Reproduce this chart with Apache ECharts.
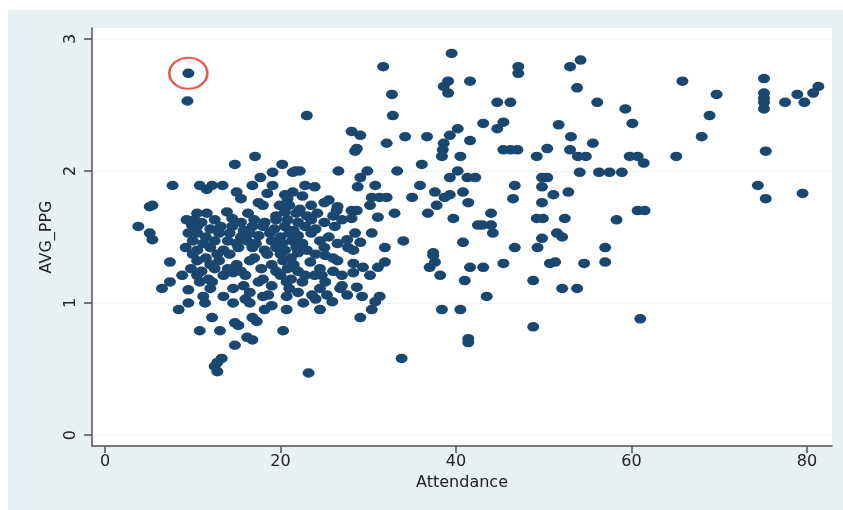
<!DOCTYPE html>
<html>
<head>
<meta charset="utf-8">
<script src="https://cdn.jsdelivr.net/npm/echarts@6/dist/echarts.min.js"></script>
<style>
  html, body { margin: 0; padding: 0; background: #ffffff; }
  #chart { position: absolute; left: 8px; top: 10px; width: 835px; height: 500px; background: #e9f0f3; }
</style>
</head>
<body>
<div id="chart"></div>
<script>
// Club attendance (thousands) against average points per game
const attendance = [
  9.5, 9.4, 31.7, 39.5, 47.1, 47.1, 53.0, 54.2, 53.8, 32.7,
  39.1, 38.6, 39.1, 41.6, 23.0, 32.8, 28.1, 29.1, 34.2, 36.7,
  40.2, 39.3, 41.6, 38.6, 38.5, 38.4, 28.7, 28.5, 32.1, 36.1,
  40.5, 21.7, 22.2, 26.6, 29.9, 33.3, 40.2, 39.3, 41.3, 42.2,
  29.1, 28.8, 30.8, 22.8, 23.9, 21.4, 35.9, 37.6, 40.8, 35.0,
  39.3, 38.7, 37.8, 36.8, 41.4, 30.4, 31.3, 32.1, 30.2, 31.1,
  33.0, 26.4, 28.1, 28.7, 28.1, 39.7, 42.5, 30.4, 28.5, 27.6,
  29.1, 27.7, 28.3, 34.0, 40.8, 31.9, 37.4, 23.4, 25.1, 22.0,
  28.3, 29.4, 30.2, 31.1, 31.9, 27.0, 28.3, 28.7, 27.6, 29.3,
  31.3, 30.8, 30.4, 29.1, 23.9, 24.7, 25.1, 24.5, 25.3, 25.9,
  23.6, 22.6, 24.5, 37.0, 37.4, 37.6, 38.2, 41.6, 41.0, 38.4,
  40.5, 41.4, 41.4, 33.8, 23.2, 44.7, 46.2, 56.1, 59.3, 60.1,
  43.1, 45.4, 44.7, 51.7, 53.1, 55.6, 50.4, 49.2, 53.0, 53.9,
  54.8, 45.4, 46.2, 47.0, 59.8, 60.7, 61.4, 54.1, 56.3, 57.5,
  58.9, 49.8, 50.4, 49.8, 46.7, 51.1, 52.8, 46.5, 49.8, 44.0,
  60.7, 61.5, 58.3, 43.0, 44.0, 44.2, 49.2, 49.9, 52.4, 51.5,
  52.1, 49.8, 49.3, 46.7, 57.0, 57.0, 43.1, 45.4, 50.7, 51.3,
  54.6, 48.8, 52.1, 53.8, 43.5, 61.0, 48.8, 65.8, 69.7, 68.9,
  68.0, 65.1, 75.1, 75.1, 75.1, 75.1, 75.1, 77.5, 78.9, 79.7,
  80.7, 81.3, 75.3, 74.4, 75.3, 79.5, 17.1, 14.8, 20.2, 19.1,
  21.4, 7.7, 10.8, 11.6, 12.2, 13.4, 16.8, 17.7, 19.1, 18.5,
  5.1, 5.4, 11.6, 13.9, 16.3, 18.0, 19.9, 3.8, 5.1, 5.4,
  7.4, 8.8, 7.4, 6.5, 9.5, 10.8, 11.2, 11.4, 9.5, 8.4,
  12.2, 10.8, 13.1, 14.8, 15.2, 16.8, 17.3, 16.2, 16.8, 14.8,
  13.3, 12.8, 12.5, 12.8, 14.6, 14.6, 14.6, 18.0, 18.6, 18.2,
  20.3, 20.7, 20.7, 21.0, 20.7, 9.3, 9.9, 9.5,
  // dense block of smaller clubs
  15.0, 20.5,
  15.5, 17.5, 20.8, 22.5, 25.5,
  21.0, 22.2, 23.5, 25.0, 26.5,
  10.5, 19.5, 20.5, 21.8, 23.0, 24.2, 26.0,
  10.2, 11.0, 12.5, 14.5, 15.5, 17.0, 18.2, 19.5, 20.8, 22.0, 23.5, 25.0, 27.0,
  10.5, 12.0, 13.2, 14.5, 15.8, 16.8, 18.0, 19.3, 20.5, 21.5, 22.8, 24.0, 26.2,
  10.5, 11.5, 13.0, 14.2, 15.5, 16.5, 17.5, 18.8, 20.0, 21.0, 22.0, 23.5, 25.5,
  10.0, 11.2, 12.5, 14.0, 15.0, 16.2, 17.2, 19.0, 20.2, 21.3, 22.5, 24.5, 26.5,
  9.2, 10.5, 12.0, 13.5, 15.2, 16.8, 18.2, 19.5, 20.5, 21.8, 23.0, 25.0,
  10.0, 11.5, 12.8, 14.2, 17.0, 18.5, 20.0, 21.2, 24.0, 26.0,
  10.5, 12.0, 13.0, 15.0, 16.5, 19.0, 20.3, 21.5, 26.5,
  9.8, 11.0, 12.5, 14.0, 15.5, 17.8, 19.5, 20.8, 22.0, 24.5, 26.0,
  10.5, 11.8, 13.5, 16.0, 18.0, 20.0, 21.2, 22.8,
  12.2, 15.8, 17.5, 19.0, 22.5, 27.0,
  12.0, 16.5, 22.0, 26.8,
  13.5, 16.0, 24.0,
  16.5, 19.0
];

const avgPpg = [
  2.74, 2.53, 2.79, 2.89, 2.79, 2.74, 2.79, 2.84, 2.63, 2.58,
  2.68, 2.64, 2.59, 2.68, 2.42, 2.42, 2.30, 2.27, 2.26, 2.26,
  2.32, 2.27, 2.23, 2.21, 2.16, 2.11, 2.17, 2.15, 2.21, 2.05,
  2.11, 2.00, 2.00, 2.00, 2.00, 2.00, 2.00, 1.95, 1.95, 1.95,
  1.95, 1.88, 1.89, 1.89, 1.88, 1.84, 1.89, 1.84, 1.84, 1.80,
  1.82, 1.80, 1.74, 1.68, 1.76, 1.80, 1.80, 1.80, 1.74, 1.65,
  1.68, 1.70, 1.70, 1.70, 1.64, 1.64, 1.59, 1.53, 1.53, 1.48,
  1.46, 1.42, 1.40, 1.47, 1.46, 1.42, 1.38, 1.31, 1.36, 1.38,
  1.30, 1.27, 1.21, 1.27, 1.31, 1.21, 1.23, 1.12, 1.06, 1.05,
  1.05, 1.01, 0.95, 0.89, 1.21, 1.21, 1.16, 1.11, 1.06, 1.01,
  1.06, 1.00, 0.95, 1.27, 1.36, 1.31, 1.21, 1.27, 1.17, 0.95,
  0.95, 0.73, 0.70, 0.58, 0.47, 2.52, 2.52, 2.52, 2.47, 2.36,
  2.36, 2.37, 2.32, 2.35, 2.26, 2.21, 2.17, 2.11, 2.16, 2.11,
  2.11, 2.16, 2.16, 2.16, 2.11, 2.11, 2.06, 1.99, 1.99, 1.99,
  1.99, 1.95, 1.95, 1.88, 1.89, 1.82, 1.84, 1.79, 1.76, 1.68,
  1.70, 1.70, 1.63, 1.59, 1.59, 1.53, 1.64, 1.64, 1.64, 1.53,
  1.50, 1.49, 1.42, 1.42, 1.42, 1.31, 1.27, 1.30, 1.30, 1.31,
  1.30, 1.17, 1.11, 1.11, 1.05, 0.88, 0.82, 2.68, 2.58, 2.42,
  2.26, 2.11, 2.70, 2.59, 2.55, 2.52, 2.47, 2.52, 2.58, 2.52,
  2.59, 2.64, 2.15, 1.89, 1.79, 1.83, 2.11, 2.05, 2.05, 1.99,
  1.99, 1.89, 1.89, 1.86, 1.89, 1.89, 1.89, 1.95, 1.89, 1.83,
  1.73, 1.74, 1.68, 1.69, 1.68, 1.74, 1.74, 1.58, 1.53, 1.48,
  1.31, 1.21, 1.16, 1.11, 1.10, 1.16, 1.05, 1.00, 1.00, 0.95,
  0.89, 0.79, 0.79, 0.85, 0.83, 0.89, 0.86, 0.74, 0.72, 0.68,
  0.58, 0.55, 0.52, 0.48, 1.00, 1.11, 1.23, 1.05, 1.06, 0.95,
  0.79, 0.95, 1.05, 1.11, 1.16, 1.63, 1.59, 1.53,
  // dense block of smaller clubs
  1.84, 1.82,
  1.79, 1.76, 1.79, 1.81, 1.78,
  1.74, 1.71, 1.74, 1.76, 1.73,
  1.68, 1.66, 1.69, 1.68, 1.66, 1.68, 1.66,
  1.63, 1.61, 1.63, 1.64, 1.61, 1.63, 1.61, 1.63, 1.63, 1.61, 1.63, 1.61, 1.63,
  1.58, 1.56, 1.58, 1.58, 1.55, 1.58, 1.58, 1.56, 1.58, 1.55, 1.58, 1.56, 1.58,
  1.53, 1.50, 1.53, 1.53, 1.50, 1.53, 1.51, 1.53, 1.50, 1.53, 1.51, 1.53, 1.50,
  1.47, 1.45, 1.47, 1.47, 1.45, 1.47, 1.45, 1.47, 1.45, 1.47, 1.45, 1.47, 1.45,
  1.42, 1.40, 1.42, 1.40, 1.42, 1.42, 1.40, 1.42, 1.40, 1.42, 1.40, 1.42,
  1.37, 1.34, 1.37, 1.37, 1.34, 1.37, 1.37, 1.34, 1.37, 1.34,
  1.32, 1.29, 1.32, 1.29, 1.32, 1.29, 1.32, 1.29, 1.32,
  1.26, 1.24, 1.26, 1.26, 1.24, 1.26, 1.24, 1.26, 1.24, 1.26, 1.24,
  1.21, 1.18, 1.21, 1.21, 1.18, 1.21, 1.18, 1.21,
  1.16, 1.13, 1.16, 1.13, 1.16, 1.13,
  1.11, 1.08, 1.08, 1.11,
  1.05, 1.03, 1.03,
  1.00, 0.98
];

// The club picked out with a ring
const highlightedClub = [9.5, 2.74];

const xTicks = [0, 20, 40, 60, 80];
const yTicks = [0, 1, 2, 3];

const points = attendance.map((a, i) => [a, avgPpg[i]]);

const axisColor = '#505050';
const textColor = '#222222';
const fontFamily = '"DejaVu Sans", Arial, sans-serif';

const chart = echarts.init(document.getElementById('chart'), null, { renderer: 'canvas' });
chart.setOption({
  animation: false,
  backgroundColor: 'transparent',
  grid: {
    left: 84, right: 11, top: 18, bottom: 64,
    show: true, backgroundColor: '#ffffff', borderWidth: 0
  },
  xAxis: {
    type: 'value',
    min: -1.48, max: 82.85,
    name: 'Attendance',
    nameLocation: 'middle',
    nameGap: 29,
    nameTextStyle: { color: textColor, fontSize: 16, fontFamily },
    axisLine: { show: true, onZero: false, lineStyle: { color: axisColor, width: 1.5 } },
    axisTick: { show: true, length: 7, customValues: xTicks, lineStyle: { color: axisColor, width: 1.5 } },
    axisLabel: { customValues: xTicks, color: textColor, fontSize: 16, fontFamily, margin: 8 },
    splitLine: { show: false }
  },
  yAxis: {
    type: 'value',
    min: -0.083, max: 3.083,
    name: 'AVG_PPG',
    nameLocation: 'middle',
    nameGap: 37,
    nameTextStyle: { color: textColor, fontSize: 16, fontFamily },
    axisLine: { show: true, onZero: false, lineStyle: { color: axisColor, width: 1.5 } },
    axisTick: { show: true, length: 8, customValues: yTicks, lineStyle: { color: axisColor, width: 1.5 } },
    axisLabel: { customValues: yTicks, rotate: 90, color: textColor, fontSize: 16, fontFamily, margin: 13 },
    splitLine: { show: true, lineStyle: { color: '#edf2f3', width: 1 } }
  },
  series: [
    {
      type: 'scatter',
      data: points,
      symbol: 'circle',
      symbolSize: [12, 9.5],
      itemStyle: { color: '#1a476f', opacity: 1 },
      emphasis: { disabled: true }
    },
    {
      type: 'scatter',
      data: [highlightedClub],
      symbol: 'circle',
      symbolSize: [38, 31],
      itemStyle: { color: 'rgba(0,0,0,0)', borderColor: '#dc3528', borderWidth: 2.4 },
      z: 5,
      emphasis: { disabled: true }
    }
  ]
});
</script>
</body>
</html>
